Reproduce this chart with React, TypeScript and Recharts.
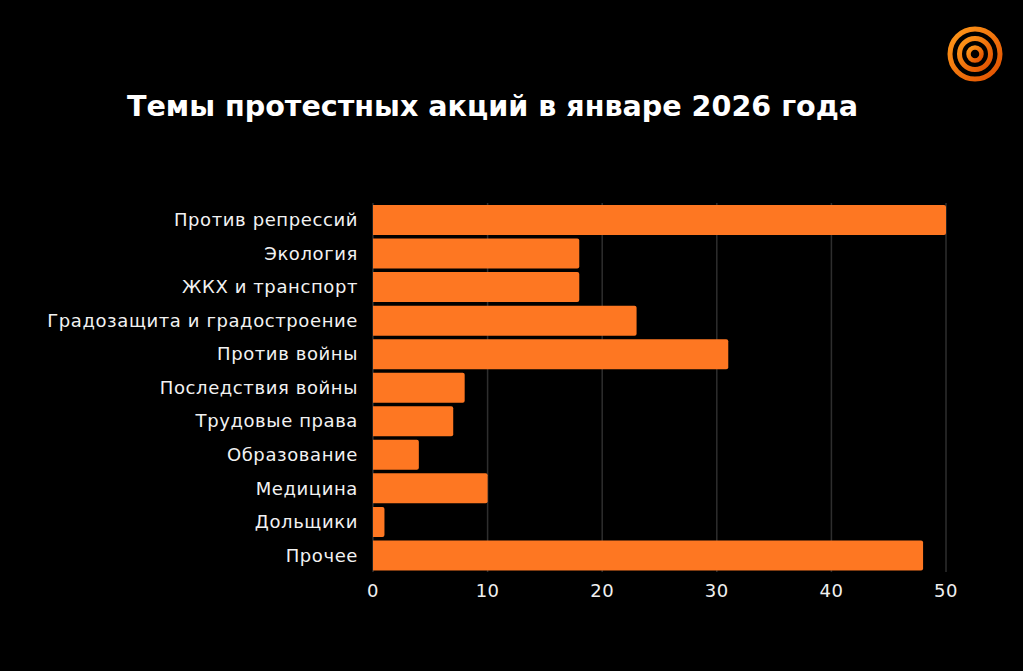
import { BarChart, Bar, XAxis, YAxis, CartesianGrid } from "recharts"

const categories = [
  "Против репрессий",
  "Экология",
  "ЖКХ и транспорт",
  "Градозащита и градостроение",
  "Против войны",
  "Последствия войны",
  "Трудовые права",
  "Образование",
  "Медицина",
  "Дольщики",
  "Прочее",
]

const counts = [50, 18, 18, 23, 31, 8, 7, 4, 10, 1, 48]

const xTicks = [0, 10, 20, 30, 40, 50]

const data = categories.map((name, i) => ({ name, value: counts[i] }))

const FONT = "'DejaVu Sans', sans-serif"
const ORANGE = "#fe7722"

function Logo() {
  return (
    <svg width={60} height={60} viewBox="0 0 60 60" style={{ position: "absolute", left: 945, top: 24 }}>
      <defs>
        <linearGradient id="lg" x1="0" y1="0" x2="1" y2="1">
          <stop offset="0%" stopColor="#ff9a1a" />
          <stop offset="100%" stopColor="#e24f00" />
        </linearGradient>
      </defs>
      <circle cx={30} cy={30} r={25} fill="none" stroke="url(#lg)" strokeWidth={5} />
      <circle cx={30} cy={30} r={15.5} fill="none" stroke="url(#lg)" strokeWidth={5} />
      <circle cx={30} cy={30} r={6.5} fill="none" stroke="url(#lg)" strokeWidth={4.5} />
    </svg>
  )
}

export default function App() {
  return (
    <div
      style={{
        position: "absolute",
        left: 0,
        top: 0,
        width: 1023,
        height: 671,
        background: "#000",
        fontFamily: FONT,
        overflow: "hidden",
      }}
    >
      <div
        style={{
          position: "absolute",
          left: 0,
          width: 985,
          top: 86,
          textAlign: "center",
          color: "#fff",
          fontSize: 28.6,
          fontWeight: 700,
          lineHeight: "40px",
        }}
      >
        Темы протестных акций в январе 2026 года
      </div>
      <Logo />
      <div style={{ position: "absolute", left: 0, top: 0 }}>
        <BarChart
          width={1023}
          height={671}
          data={data}
          layout="vertical"
          margin={{ top: 203, right: 77, bottom: 69, left: 0 }}
          barCategoryGap={2}
        >
          <CartesianGrid horizontal={false} stroke="#2e2e2e" strokeWidth={1.5} />
          <XAxis
            type="number"
            domain={[0, 50]}
            ticks={xTicks}
            axisLine={false}
            tickLine={false}
            tickMargin={6}
            tick={{ fill: "#f0f0f0", fontSize: 18, fontFamily: FONT, letterSpacing: 0.5 }}
          />
          <YAxis
            type="category"
            dataKey="name"
            width={373}
            axisLine={false}
            tickLine={false}
            tickSize={0}
            tickMargin={15}
            interval={0}
            tick={{ fill: "#f2f2f2", fontSize: 18, fontFamily: FONT, letterSpacing: 0.6 }}
          />
          <Bar dataKey="value" fill={ORANGE} radius={[0, 2, 2, 0]} isAnimationActive={false} />
        </BarChart>
      </div>
    </div>
  )
}
